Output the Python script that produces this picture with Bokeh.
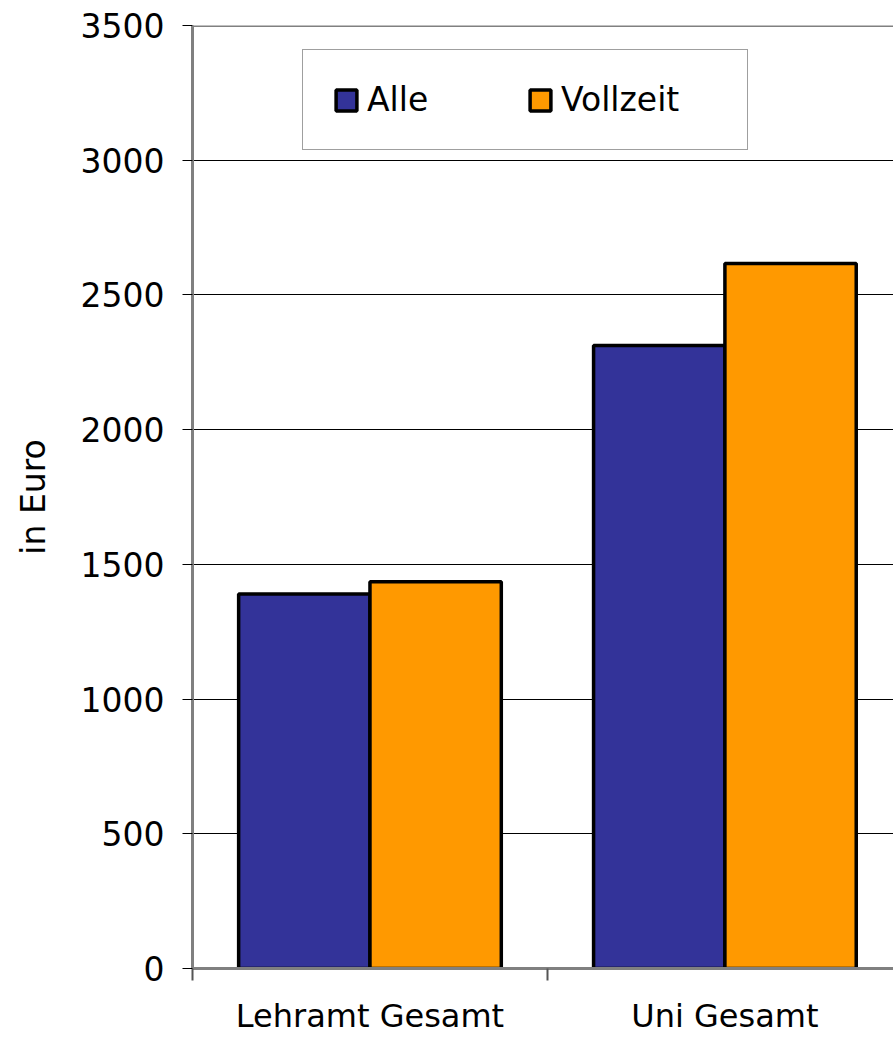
import numpy as np
from bokeh.plotting import figure
from bokeh.models import (ColumnDataSource, FixedTicker, Range1d, Legend, LegendItem, Span)
from bokeh.transform import dodge
from bokeh.embed import file_html
from bokeh.resources import INLINE

categories = ["Lehramt Gesamt", "Uni Gesamt"]
alle = [1390, 2312]
vollzeit = [1435, 2617]
y_ticks = [0, 500, 1000, 1500, 2000, 2500, 3000, 3500]
series_names = ["Alle", "Vollzeit"]
colors = ["#333399", "#FF9900"]

FONT = "DejaVu Sans"

centers = np.arange(len(categories)) + 0.5
src = ColumnDataSource(dict(x=centers, alle=alle, vollzeit=vollzeit))

p = figure(width=893, height=1037, output_backend="svg", toolbar_location=None,
           x_range=Range1d(0, 1.975), y_range=Range1d(0, 3500),
           min_border_left=192, min_border_right=0, min_border_top=25, min_border_bottom=69)
p.outline_line_color = None
p.background_fill_color = "white"
p.border_fill_color = "white"

r1 = p.vbar(x=dodge("x", -0.185), top="alle", width=0.37, source=src,
            fill_color=colors[0], line_color="black", line_width=3.5)
r2 = p.vbar(x=dodge("x", 0.185), top="vollzeit", width=0.37, source=src,
            fill_color=colors[1], line_color="black", line_width=3.5)

# top border
p.add_layout(Span(location=3500, dimension="width", line_color="#808080", line_width=3))

# grid
p.xgrid.grid_line_color = None
p.ygrid.grid_line_color = "black"
p.ygrid.grid_line_width = 1
p.ygrid.ticker = FixedTicker(ticks=y_ticks)

# y axis
p.yaxis.ticker = FixedTicker(ticks=y_ticks)
p.yaxis.axis_line_color = "#808080"
p.yaxis.axis_line_width = 3
p.yaxis.major_tick_out = 10
p.yaxis.major_tick_in = 0
p.yaxis.major_tick_line_color = "black"
p.yaxis.minor_tick_line_color = None
p.yaxis.major_label_text_font = FONT
p.yaxis.major_label_text_font_size = "33px"
p.yaxis.major_label_text_color = "black"
p.yaxis.major_label_standoff = 18
p.yaxis.axis_label = "in Euro"
p.yaxis.axis_label_text_font = FONT
p.yaxis.axis_label_text_font_size = "33px"
p.yaxis.axis_label_text_font_style = "normal"
p.yaxis.axis_label_text_color = "black"
p.yaxis.axis_label_standoff = 25

# x axis
bounds = list(np.arange(len(categories) + 1).astype(float))
p.xaxis.ticker = FixedTicker(ticks=list(centers), minor_ticks=bounds)
p.xaxis.major_label_overrides = {float(c): n for c, n in zip(centers, categories)}
p.xaxis.axis_line_color = "#808080"
p.xaxis.axis_line_width = 3
p.xaxis.major_tick_line_color = None
p.xaxis.major_tick_out = 0
p.xaxis.major_tick_in = 0
p.xaxis.minor_tick_out = 12
p.xaxis.minor_tick_in = 0
p.xaxis.minor_tick_line_color = "#555555"
p.xaxis.minor_tick_line_width = 2
p.xaxis.major_label_text_font = FONT
p.xaxis.major_label_text_font_size = "32px"
p.xaxis.major_label_text_color = "black"
p.xaxis.major_label_standoff = 16

legend = Legend(items=[LegendItem(label=series_names[0], renderers=[r1]),
                       LegendItem(label=series_names[1], renderers=[r2])],
                orientation="horizontal", location=(110, 818), margin=0,
                padding=30, spacing=4, label_width=156, label_standoff=8,
                glyph_width=26, glyph_height=26,
                label_text_font=FONT, label_text_font_size="33px",
                label_text_color="black",
                border_line_color="#404040", border_line_width=1,
                background_fill_color="white", background_fill_alpha=1)
p.add_layout(legend, "center")

open("out.html", "w").write(file_html(p, INLINE))
